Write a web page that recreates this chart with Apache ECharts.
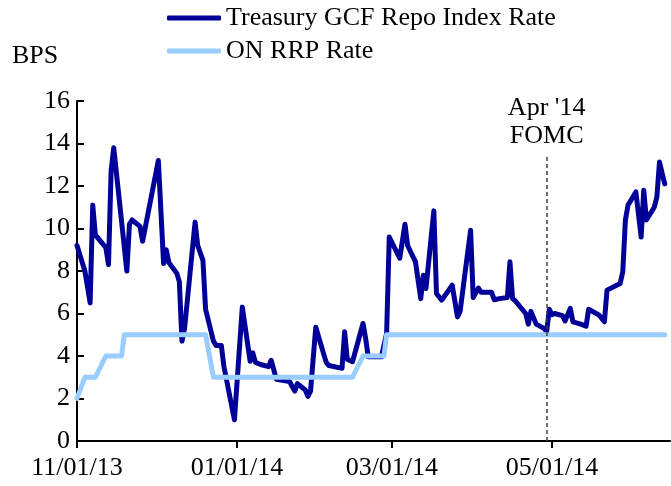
<!DOCTYPE html>
<html>
<head>
<meta charset="utf-8">
<script src="https://cdn.jsdelivr.net/npm/echarts@6/dist/echarts.min.js"></script>
<style>
html, body { margin: 0; padding: 0; background: #fff; }
#chart { width: 671px; height: 486px; }
</style>
</head>
<body>
<div id="chart"></div>
<script>
// Treasury GCF Repo Index Rate (bps)
var gcfDates = [
  '2013-11-01','2013-11-04','2013-11-06','2013-11-07','2013-11-08','2013-11-12','2013-11-13','2013-11-14','2013-11-15',
  '2013-11-20','2013-11-21','2013-11-22','2013-11-25','2013-11-26','2013-12-02','2013-12-04','2013-12-05','2013-12-06',
  '2013-12-09','2013-12-10','2013-12-11','2013-12-12','2013-12-16','2013-12-17','2013-12-19','2013-12-20','2013-12-23',
  '2013-12-24','2013-12-26','2013-12-27','2013-12-31','2014-01-03','2014-01-06','2014-01-07','2014-01-08','2014-01-10',
  '2014-01-13','2014-01-14','2014-01-16','2014-01-21','2014-01-23','2014-01-24','2014-01-27','2014-01-28','2014-01-29',
  '2014-01-31','2014-02-03','2014-02-04','2014-02-05','2014-02-10','2014-02-11','2014-02-12','2014-02-14','2014-02-18',
  '2014-02-19','2014-02-20','2014-02-25','2014-02-27','2014-02-28','2014-03-04','2014-03-06','2014-03-07','2014-03-10',
  '2014-03-12','2014-03-13','2014-03-14','2014-03-17','2014-03-18','2014-03-20','2014-03-24','2014-03-26','2014-03-27',
  '2014-03-31','2014-04-01','2014-04-03','2014-04-04','2014-04-08','2014-04-09','2014-04-11','2014-04-14','2014-04-15',
  '2014-04-16','2014-04-17','2014-04-21','2014-04-22','2014-04-23','2014-04-25','2014-04-28','2014-04-29','2014-04-30',
  '2014-05-01','2014-05-02','2014-05-05','2014-05-06','2014-05-08','2014-05-09','2014-05-12','2014-05-14','2014-05-15',
  '2014-05-19','2014-05-21','2014-05-22','2014-05-27','2014-05-28','2014-05-29','2014-05-30','2014-06-02','2014-06-04',
  '2014-06-05','2014-06-06','2014-06-09','2014-06-10','2014-06-11','2014-06-12','2014-06-13'
];
var gcfValues = [
  9.2, 8.0, 6.5, 11.1, 9.7, 9.1, 8.3, 12.7, 13.8,
  8.0, 10.2, 10.4, 10.1, 9.4, 13.2, 8.35, 9.0, 8.4,
  7.9, 7.5, 4.7, 5.3, 10.3, 9.2, 8.5, 6.2, 4.7,
  4.5, 4.5, 3.5, 1.0, 6.3, 3.75, 4.15, 3.7, 3.6,
  3.5, 3.8, 2.9, 2.8, 2.35, 2.7, 2.4, 2.1, 2.35,
  5.35, 4.1, 3.7, 3.55, 3.42, 5.14, 3.85, 3.73, 5.53,
  4.83, 3.96, 3.96, 5.06, 9.6, 8.6, 10.2, 9.2, 8.43,
  6.7, 7.8, 7.18, 10.83, 6.94, 6.63, 7.33, 5.84, 6.1,
  9.92, 6.75, 7.2, 7.0, 7.0, 6.65, 6.7, 6.75, 8.43,
  6.7, 6.6, 6.0, 5.5, 6.1, 5.5, 5.3, 5.15, 6.2,
  5.95, 6.0, 5.9, 5.65, 6.24, 5.61, 5.5, 5.4, 6.2,
  5.92, 5.61, 7.1, 7.41, 7.96, 10.4, 11.1, 11.72, 9.6,
  11.8, 10.4, 11.0, 11.49, 13.13, 12.6, 12.1
];

// ON RRP Rate (bps), values at each change
var rrpDates = ['2013-11-01','2013-11-04','2013-11-08','2013-11-12','2013-11-18','2013-11-19','2013-12-20','2013-12-23',
                '2014-02-14','2014-02-18','2014-02-26','2014-02-27','2014-06-13'];
var rrpValues = [2, 3, 3, 4, 4, 5, 5, 3, 3, 4, 4, 5, 5];

var xTickDates = ['2013-11-01', '2014-01-01', '2014-03-01', '2014-05-01'];
var axisStart = '2013-11-01';
var axisEnd = '2014-06-15';
var fomcDate = '2014-04-29';
var fomcTop = 13.45;

var FONT = '"Liberation Serif", "Times New Roman", serif';

function ts(s) {
  var p = s.split('-');
  return new Date(+p[0], +p[1] - 1, +p[2]).getTime();
}
function pad(n) { return (n < 10 ? '0' : '') + n; }
function fmtDate(t) {
  var d = new Date(t);
  return pad(d.getMonth() + 1) + '/' + pad(d.getDate()) + '/' + pad(d.getFullYear() % 100);
}
function pairs(dates, vals) {
  return dates.map(function (s, i) { return [ts(s), vals[i]]; });
}

var tickValues = xTickDates.map(ts);

var chart = echarts.init(document.getElementById('chart'));
chart.setOption({
  animation: false,
  title: {
    text: 'BPS', left: 7, top: 38,
    textStyle: { fontFamily: FONT, fontSize: 26, fontWeight: 'normal', color: '#000' }
  },
  legend: {
    orient: 'vertical', left: 162, top: 0,
    itemWidth: 54, itemHeight: 5, itemGap: 7,
    icon: 'roundRect',
    textStyle: { fontFamily: FONT, fontSize: 26, color: '#000' },
    data: ['Treasury GCF Repo Index Rate', 'ON RRP Rate']
  },
  grid: { left: 77, right: 1, top: 101, bottom: 45 },
  xAxis: {
    type: 'value',
    min: ts(axisStart), max: ts(axisEnd),
    axisLine: { show: true, lineStyle: { color: '#000', width: 2 } },
    axisTick: { show: true, length: 7, lineStyle: { color: '#000', width: 2 }, customValues: tickValues },
    axisLabel: {
      customValues: tickValues, formatter: fmtDate, margin: 14,
      fontFamily: FONT, fontSize: 26, color: '#000'
    },
    splitLine: { show: false }
  },
  yAxis: {
    type: 'value', min: 0, max: 16, interval: 2,
    axisLine: { show: true, lineStyle: { color: '#000', width: 2 } },
    axisTick: { show: true, inside: true, length: 7, lineStyle: { color: '#000', width: 2 } },
    axisLabel: { margin: 7, fontFamily: FONT, fontSize: 26, color: '#000' },
    splitLine: { show: false }
  },
  series: [
    {
      name: 'Treasury GCF Repo Index Rate',
      type: 'line',
      data: pairs(gcfDates, gcfValues),
      showSymbol: false,
      color: '#000099',
      lineStyle: { width: 5, color: '#000099', join: 'round', cap: 'round' },
      markLine: {
        silent: true,
        symbol: ['none', 'none'],
        lineStyle: { type: [4, 3], color: '#404040', width: 1.5 },
        label: {
          show: true, position: 'end', distance: 5,
          formatter: "Apr '14\nFOMC",
          fontFamily: FONT, fontSize: 26, lineHeight: 28, color: '#000'
        },
        data: [[{ coord: [ts(fomcDate), 0] }, { coord: [ts(fomcDate), fomcTop] }]]
      }
    },
    {
      name: 'ON RRP Rate',
      type: 'line',
      data: pairs(rrpDates, rrpValues),
      showSymbol: false,
      color: '#99ccff',
      lineStyle: { width: 5, color: '#99ccff', join: 'round', cap: 'round' }
    }
  ]
});
</script>
</body>
</html>
